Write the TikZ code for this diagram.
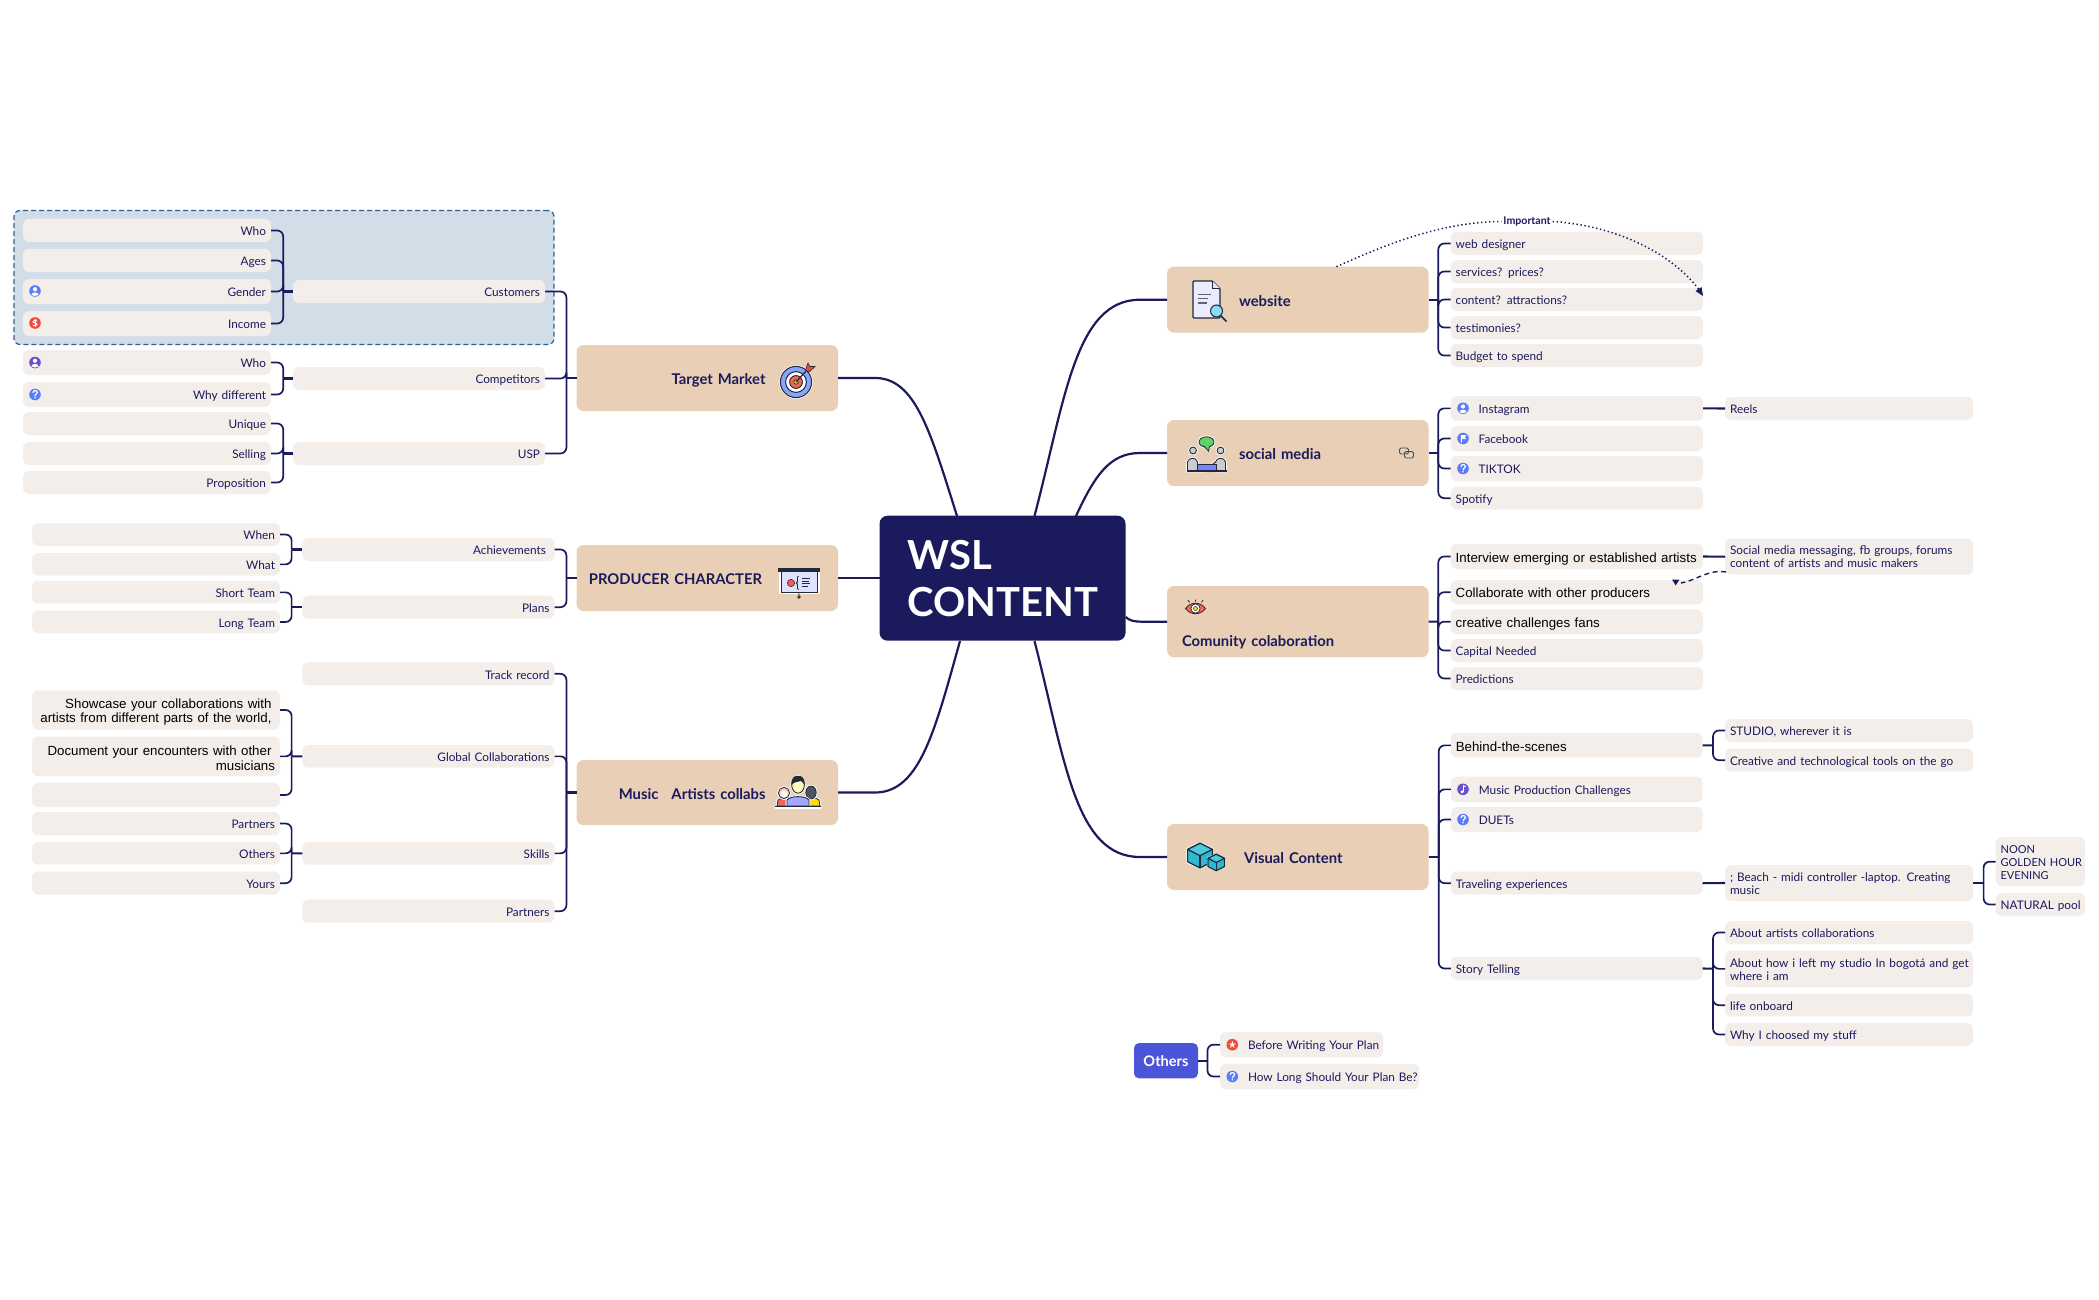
\documentclass[tikz,border=0pt]{standalone}
\usepackage{fontspec}
\setmainfont{Lato}
\newfontfamily\blackfont{Liberation Sans}
\usetikzlibrary{arrows.meta}
\definecolor{navy}{HTML}{1A1A5C}
\definecolor{tanbox}{HTML}{E8CFB5}
\definecolor{leafc}{HTML}{F3EEEA}
\definecolor{groupc}{HTML}{D3DDE8}
\definecolor{groupb}{HTML}{2C5E96}
\definecolor{othersc}{HTML}{4B55D8}
\definecolor{icblue}{HTML}{5A7DF5}
\definecolor{icpurple}{HTML}{6A4FD0}
\definecolor{icred}{HTML}{F4483C}
\definecolor{icdark}{HTML}{1E2A38}
\definecolor{icteal}{HTML}{2FB8D2}
\definecolor{icteallight}{HTML}{4CCBE0}
\tikzset{
 leafbase/.style={rectangle,rounded corners=6pt,fill=leafc,inner xsep=5pt,inner ysep=0pt,outer sep=0pt,text=navy,font=\fontsize{11.8}{13}\selectfont},
 leaf/.style={leafbase,execute at begin node={\rule[-3pt]{0pt}{16.6pt}}},
 leafLm/.style={leafbase,align=left,execute at begin node={\rule[-3pt]{0pt}{12.6pt}}},
 leafL/.style={leaf,align=left},
 leafR/.style={leaf,align=right},
 leafLk/.style={leafL,text=black,font=\blackfont\fontsize{13.3}{14}\selectfont,execute at begin node={\rule[-3pt]{0pt}{17.4pt}}},
 leafRk/.style={leafR,text=black,font=\blackfont\fontsize{13.3}{14.5}\selectfont},
 topic/.style={rectangle,rounded corners=7pt,fill=tanbox,inner xsep=5pt,inner ysep=0pt,outer sep=0pt,text=navy,font=\fontsize{14.8}{14}\bfseries\selectfont,execute at begin node={\rule[-3.5pt]{0pt}{20pt}}},
 topicL/.style={topic,align=left},
 topicR/.style={topic,align=right},
 hub/.style={rectangle,rounded corners=8pt,fill=navy,text=white,outer sep=0pt,inner xsep=5pt,inner ysep=0pt,align=left,font=\fontsize{40}{47}\bfseries\selectfont},
 othersbox/.style={rectangle,rounded corners=5pt,fill=othersc,text=white,outer sep=0pt,inner xsep=2pt,inner ysep=0pt,align=center,font=\fontsize{14.6}{15}\bfseries\selectfont},
 groupzone/.style={rectangle,rounded corners=6pt,fill=groupc,draw=groupb,line width=1.2pt,dash pattern=on 5pt off 3pt,outer sep=0pt,inner sep=0pt},
 main/.style={draw=navy,line width=2.2pt},
 branch/.style={draw=navy,line width=1.7pt,rounded corners=6pt},
 stem/.style={draw=navy,line width=2.1pt},
 dotlink/.style={draw=navy,line width=1.5pt,dash pattern=on 1.4pt off 2.6pt},
 dashlink/.style={draw=navy,line width=1.4pt,dash pattern=on 5pt off 3.5pt},
 imp/.style={text=navy,inner sep=0pt,outer sep=2pt,font=\fontsize{10.6}{12}\bfseries\selectfont},
 halo/.style={preaction={draw=white,line width=2.6pt}},
 pics/icperson/.style={code={
   \fill[#1] (0,0) circle (5.8);
   \fill[white] (0,-1.8) circle (2.1);
   \fill[white] (-3.6,3.9) .. controls (-3.4,0.6) and (3.4,0.6) .. (3.6,3.9) .. controls (1.5,5.4) and (-1.5,5.4) .. cycle;
 }},
 pics/icquestion/.style={code={
   \fill[#1] (0,0) circle (5.8);
   \draw[white,line width=1.2pt,line cap=round] (-2,-1.9) .. controls (-2,-4.6) and (2.3,-4.6) .. (2.3,-1.9) .. controls (2.3,-0.2) and (0,-0.6) .. (0,1.4);
   \fill[white] (0,3.3) circle (0.85);
 }},
 pics/icdollar/.style={code={
   \fill[#1] (0,0) circle (5.8);
   \draw[white,line width=1pt] (2,-2) .. controls (1,-3.5) and (-2.4,-3) .. (-2,-1) .. controls (-1.5,.4) and (2.4,0) .. (2,1.5) .. controls (1.5,3) and (-1,3.2) .. (-2.1,2);
   \draw[white,line width=.8pt] (0,-4.3) -- (0,4.3);
 }},
 pics/icflag/.style={code={
   \fill[#1] (0,0) circle (5.8);
   \fill[white] (-2.2,-3.4) -- (3.2,-3.4) -- (2,-1.4) -- (3.2,0.6) -- (-1.2,0.6) -- (-1.2,4.2) -- (-2.2,4.2) -- cycle;
 }},
 pics/icnote/.style={code={
   \fill[#1] (0,0) circle (5.8);
   \fill[white] (-0.9,2.6) circle (1.7);
   \draw[white,line width=.9pt] (0.5,2.6) -- (0.5,-3.6) -- (2.6,-2.4);
 }},
 pics/icstar/.style={code={
   \fill[#1] (0,0) circle (5.8);
   \fill[white] (0,-3.9) -- (.9,-1.2) -- (3.6,-1.2) -- (1.4,.5) -- (2.2,3.1) -- (0,1.5) -- (-2.2,3.1) -- (-1.4,.5) -- (-3.6,-1.2) -- (-.9,-1.2) -- cycle;
 }},
 pics/ictarget/.style={code={
   \fill[white] (0,0) circle (16.8);
   \draw[icdark,fill=icblue!70!white,line width=1pt] (0,0) circle (15.6);
   \draw[icdark,fill=white,line width=1pt] (0,0) circle (10.4);
   \draw[icdark,fill=icred!85!white,line width=.9pt] (0,0) circle (6.4);
   \draw[icdark,fill=yellow!85!orange,line width=.7pt] (0,0) circle (2.2);
   \draw[icdark,line width=1.2pt] (0,0) -- (11,-12);
   \fill[icred] (9.5,-12) -- (12,-19) -- (14,-15.5) -- (19,-15.5) -- (13,-10) -- cycle;
   \draw[icdark,line width=.6pt] (9.5,-12) -- (12,-19) -- (14,-15.5) -- (19,-15.5) -- (13,-10) -- cycle;
 }},
 pics/icboard/.style={code={
   \fill[white] (-20.5,-13) rectangle (20.5,12);
   \draw[icdark,fill=blue!12!white,line width=1pt] (-18,-11) rectangle (18,11);
   \draw[icdark,fill=gray!60!white,line width=1.2pt] (-20,-12.5) rectangle (20,-10.5);
   \fill[icred!90!white,draw=icdark,line width=.5pt] (-8,1.5) circle (3.7);
   \draw[icdark,line width=.9pt] (-.5,-5.5) .. controls (-3,-5) and (0,1.5) .. (-2.8,1.5) .. controls (0,1.5) and (-3,8) .. (-.5,8);
   \draw[icdark,line width=1pt] (3,-3.5) -- (11,-3.5) (3,-.5) -- (10,-.5) (3,2) -- (11,2) (3,5) -- (9,5);
   \draw[icdark,line width=.8pt,fill=white] (0,11) -- (0,14.5) (0,15.5) circle (1.3);
 }},
 pics/icpeople/.style={code={
   \fill[icred!85!white,draw=icdark,line width=.8pt,halo] (-21,14) -- (-20,8) .. controls (-17,5) and (-9,5) .. (-8,8) -- (-8,14) -- cycle;
   \fill[pink!80!white,draw=icdark,line width=.8pt,halo] (-14,1) circle (5.6);
   \fill[white] (-14,2) circle (3.2);
   \fill[yellow!80!orange,draw=icdark,line width=.8pt,halo] (8,14) -- (8,8) .. controls (10,5) and (18,5) .. (21,8) -- (22,14) -- cycle;
   \fill[icdark!80!white,draw=icdark,line width=.8pt,halo] (13,.5) ellipse (5.2 and 6.4);
   \fill[blue!35!white,draw=icdark,line width=.9pt,halo] (-11,14) -- (-11,8) .. controls (-8,3.5) and (8,3.5) .. (11,8) -- (11,14) -- cycle;
   \fill[yellow!25!white,draw=icdark,line width=.9pt,halo] (0,-7) ellipse (6.3 and 8.2);
   \fill[icdark] (-6.6,-7) .. controls (-7,-15) and (-3,-16.5) .. (0,-16) .. controls (4,-16.5) and (7,-14) .. (6.6,-7) .. controls (4.5,-9) and (4,-11) .. (3,-11) .. controls (0,-10) and (-3.5,-10.5) .. (-6.6,-7) -- cycle;
   \draw[white,line width=3pt] (-23,15.3) -- (23,15.3);
   \draw[icdark,line width=1.6pt] (-23,14.5) -- (23,14.5);
 }},
 pics/icdoc/.style={code={
   \draw[icdark,fill=white!92!blue,line width=1.3pt,rounded corners=1pt] (-13.5,-18.5) -- (6,-18.5) -- (13.5,-11) -- (13.5,18.5) -- (-13.5,18.5) -- cycle;
   \draw[icdark,line width=.8pt,fill=gray!20!white] (6,-18.5) -- (6,-11) -- (13.5,-11);
   \draw[gray!70!icdark,line width=1.2pt] (-9,-5) -- (4,-5) (-9,-.8) -- (1,-.8) (-9,3.4) -- (0,3.4);
   \draw[icdark,line width=1.5pt] (13,15) -- (20,22);
   \draw[icdark,fill=cyan!45!white,line width=1pt] (10,11.5) circle (6);
 }},
 pics/icmeeting/.style={code={
   \fill[green!55!gray!80!white,draw=icdark,line width=.8pt,halo] (20,-11) ellipse (7.5 and 5.2);
   \fill[green!55!gray!80!white,draw=icdark,line width=.8pt] (17,-7.4) -- (22,-2) -- (23,-7);
   \fill[gray!40!white,draw=icdark,line width=.9pt,halo] (1,18) -- (1,9) .. controls (2,4) and (10,4) .. (11,9) -- (11,15) -- (15,18) -- cycle;
   \fill[gray!40!white,draw=icdark,line width=.9pt,halo] (39,18) -- (39,9) .. controls (38,4) and (30,4) .. (29,9) -- (24,13) -- (29,15) -- (29,18) -- cycle;
   \fill[white!60!gray,draw=icdark,line width=.9pt,halo] (6.5,-2.5) circle (3.4);
   \fill[white!60!gray,draw=icdark,line width=.9pt,halo] (34,-2.5) circle (3.4);
   \fill[blue!50!white,draw=icdark,line width=.7pt] (10.5,11) rectangle (30,18);
   \draw[icdark,line width=1.5pt] (0,18.2) -- (40,18.2);
 }},
 pics/iceye/.style={code={
   \draw[icdark,line width=.8pt,fill=icred!85!white] (-10,0) .. controls (-5,-7) and (5,-7) .. (10,0) .. controls (5,7) and (-5,7) .. (-10,0) -- cycle;
   \draw[icdark,line width=.7pt,fill=white] (0,0) circle (4.6);
   \draw[icdark,line width=.5pt,fill=yellow!85!orange] (0,0) circle (2);
   \draw[icdark,line width=.8pt] (0,-7) -- (0,-9) (-6,-6) -- (-7.5,-8.5) (6,-6) -- (7.5,-8.5);
 }},
 pics/iccube/.style={code={
   \fill[white] (0,-1.1) -- (1.1,-.6) -- (1.1,.6) -- (0,1.1) -- (-1.1,.6) -- (-1.1,-.6) -- cycle;
   \draw[icdark,line width=1.2pt,fill=icteal,line join=round] (0,-1) -- (1,-.5) -- (1,.5) -- (0,1) -- (-1,.5) -- (-1,-.5) -- cycle;
   \draw[icdark,line width=1.2pt,fill=icteallight,line join=round] (0,-1) -- (1,-.5) -- (0,0) -- (-1,-.5) -- cycle;
   \draw[icdark,line width=1.2pt] (0,0) -- (0,1);
 }},
 pics/iclink/.style={code={
   \draw[gray!40!icdark,line width=.9pt,rounded corners=1.5pt] (0,0) rectangle (9,6);
   \draw[gray!40!icdark,line width=.9pt,rounded corners=1.5pt] (5,3.6) rectangle (14,10);
 }}
}
% name, style, x1, y1, x2, y2, text
\newcommand{\mmbox}[7]{%
 \pgfmathsetmacro{\mmw}{#5-(#3)}\pgfmathsetmacro{\mmh}{#6-(#4)}%
 \pgfmathsetmacro{\mmcx}{(#3+#5)/2}\pgfmathsetmacro{\mmcy}{(#4+#6)/2}%
 \pgfmathsetmacro{\mmt}{\mmw-10}%
 \node[#2,minimum width=\mmw pt,minimum height=\mmh pt,text width=\mmt pt] (#1) at (\mmcx,\mmcy) {#7};}
% junction, anchor on children, children
\newcommand{\mmfan}[3]{\foreach \mmc in {#3}{\draw[branch] (\mmc.#2) -| (#1);}}
\begin{document}
\begin{tikzpicture}[x=1pt,y=-1pt]
\useasboundingbox (0,0) rectangle (2099,1300);
\node[groupzone,minimum width=540pt,minimum height=134pt] (grp) at (284,277.5) {};

% left: target market
\mmbox{tmarket}{topicR}{576.5}{345}{838}{411}{Target Market\hspace{67.5pt}\mbox{}}
\mmbox{who}{leafR}{23}{219}{271}{242}{Who}
\mmbox{ages}{leafR}{23}{249}{271}{272}{Ages}
\mmbox{gender}{leafR}{23}{279}{271}{304}{Gender}
\mmbox{income}{leafR}{23}{311}{271}{336}{Income}
\mmbox{customers}{leafR}{293}{280}{545}{303}{Customers}
\mmbox{whob}{leafR}{23}{350}{271}{375}{Who}
\mmbox{whydiff}{leafR}{23}{382}{271}{407}{Why different}
\mmbox{competitors}{leafR}{293}{367}{545}{390}{Competitors}
\mmbox{unique}{leafR}{23}{412}{271}{435}{Unique}
\mmbox{selling}{leafR}{23}{442}{271}{465}{Selling}
\mmbox{proposition}{leafR}{23}{471}{271}{494}{Proposition}
\mmbox{usp}{leafR}{293}{442}{545}{465}{USP}

% left: producer
\mmbox{producer}{topicR}{576.5}{545}{838}{611}{PRODUCER CHARACTER\hspace{71pt}\mbox{}}
\mmbox{whenb}{leafR}{32}{523}{280}{546}{When}
\mmbox{whatb}{leafR}{32}{553}{280}{575.7}{What}
\mmbox{shortt}{leafR}{32}{581}{280}{603.7}{Short Team}
\mmbox{longt}{leafR}{32}{610.7}{280}{633.3}{Long Team}
\mmbox{achieve}{leafR}{302.3}{538}{554.5}{561}{Achievements\hspace{3.5pt}\mbox{}}
\mmbox{plans}{leafR}{302.3}{595.7}{554.5}{618.7}{Plans}

% left: music
\mmbox{music}{topicR}{576.5}{760}{838}{825}{Music\hspace{13pt}Artists collabs\hspace{67.5pt}\mbox{}}
\mmbox{track}{leafR}{302.3}{662.3}{554.5}{685.3}{Track record}
\mmbox{showcase}{leafRk}{32}{690.3}{280}{729.7}{Showcase your collaborations with\hspace{3.5pt}\mbox{}\\artists from different parts of the world,\hspace{3.5pt}\mbox{}}
\mmbox{document}{leafRk}{32}{736.7}{280}{776}{Document your encounters with other\hspace{3.5pt}\mbox{}\\musicians}
\mmbox{emptyb}{leafR}{32}{783}{280}{807}{}
\mmbox{globalc}{leafR}{302.3}{745}{554.5}{767.7}{Global Collaborations}
\mmbox{partnersa}{leafR}{32}{812}{280}{835}{Partners}
\mmbox{others}{leafR}{32}{842}{280}{864.7}{Others}
\mmbox{yours}{leafR}{32}{871.7}{280}{894.7}{Yours}
\mmbox{skills}{leafR}{302.3}{842}{554.5}{864.7}{Skills}
\mmbox{partnersb}{leafR}{302.3}{899.7}{554.5}{922.7}{Partners}

% hub
\node[hub,minimum width=246pt,minimum height=125pt,text width=190pt] (wsl) at (1002.5,578.2) {WSL\\CONTENT};

% right: website
\mmbox{website}{topicL}{1167}{266.7}{1428.6}{332.7}{\hspace{67pt}website}
\mmbox{webdes}{leafL}{1450.7}{232}{1703}{255}{web designer}
\mmbox{services}{leafL}{1450.7}{260}{1703}{283}{services? prices?}
\mmbox{contentb}{leafL}{1450.7}{288}{1703}{311}{content? attractions?}
\mmbox{testim}{leafL}{1450.7}{316}{1703}{339}{testimonies?}
\mmbox{budget}{leafL}{1450.7}{344}{1703}{367}{Budget to spend}

% right: social
\mmbox{social}{topicL}{1167}{420}{1428.6}{486}{\hspace{67pt}social media}
\mmbox{instagram}{leafL}{1450.7}{396}{1703}{420.7}{\hspace{23pt}Instagram}
\mmbox{facebook}{leafL}{1450.7}{426}{1703}{451}{\hspace{23pt}Facebook}
\mmbox{tiktok}{leafL}{1450.7}{456}{1703}{481}{\hspace{23pt}TIKTOK}
\mmbox{spotify}{leafL}{1450.7}{486.7}{1703}{509.7}{Spotify}
\mmbox{reels}{leafL}{1725}{397}{1973}{420}{Reels}

% right: community
\mmbox{community}{topicL}{1167}{586}{1428.6}{657.3}{\mbox{}\\[19.7pt]\hspace{10pt}Comunity colaboration}
\mmbox{interview}{leafLk}{1450.7}{544}{1703}{569}{\mbox{Interview emerging or established artists}}
\mmbox{collab}{leafLk}{1450.7}{580}{1703}{604.3}{Collaborate with other producers}
\mmbox{creative}{leafLk}{1450.7}{609.3}{1703}{634}{creative challenges fans}
\mmbox{capital}{leafL}{1450.7}{639}{1703}{662}{Capital Needed}
\mmbox{predict}{leafL}{1450.7}{667}{1703}{690}{Predictions}
\mmbox{messaging}{leafLm}{1725}{538.7}{1973}{574.7}{\mbox{Social media messaging, fb groups, forums}\\content of artists and music makers}

% right: visual
\mmbox{visual}{topicL}{1167}{824}{1428.5}{890}{\hspace{72pt}Visual Content}
\mmbox{behind}{leafLk}{1450.8}{733}{1702.7}{757.7}{Behind-the-scenes}
\mmbox{musicprod}{leafL}{1450.8}{776.7}{1702.7}{802}{\hspace{23pt}Music Production Challenges}
\mmbox{duets}{leafL}{1450.8}{807}{1702.7}{832}{\hspace{23pt}DUETs}
\mmbox{travel}{leafL}{1450.8}{871.7}{1702.7}{894.7}{Traveling experiences}
\mmbox{story}{leafL}{1450.8}{957}{1702.7}{980}{Story Telling}
\mmbox{studio}{leafL}{1725}{719}{1973}{742}{STUDIO, wherever it is}
\mmbox{creativetools}{leafL}{1725}{748.7}{1973}{771.7}{\mbox{Creative and technological tools\hspace{4pt}on the go}}
\mmbox{beach}{leafLm}{1725}{865}{1973}{901}{\mbox{; Beach - midi controller -laptop. Creating}\\music}
\mmbox{aboutart}{leafL}{1725}{921}{1973}{944}{About artists collaborations}
\mmbox{abouthow}{leafLm}{1725}{950.7}{1973}{987}{\mbox{About how i left my studio In bogotá and get}\\where i am}
\mmbox{lifeon}{leafL}{1725}{993.7}{1973}{1016.7}{life onboard}
\mmbox{whyi}{leafL}{1725}{1023}{1973}{1046}{Why I choosed my stuff}
\mmbox{noon}{leafLm,font=\fontsize{11}{13}\selectfont}{1995.6}{837}{2085}{886.3}{NOON\\\mbox{GOLDEN HOUR}\\EVENING}
\mmbox{natural}{leafL}{1995.6}{893}{2085}{916}{\mbox{NATURAL pool}}

% others
\node[othersbox,minimum width=64pt,minimum height=35.3pt] (othersroot) at (1166,1060.7) {Others};
\mmbox{before}{leafL}{1220}{1032}{1383}{1057.3}{\mbox{\hspace{23pt}Before Writing Your Plan}}
\mmbox{howlong}{leafL}{1220}{1064}{1419.4}{1089}{\mbox{\hspace{23pt}How Long Should Your Plan Be?}}

% junctions
\coordinate (jcust) at (283.2,291.5);
\coordinate (jcomp) at (283.2,378.5);
\coordinate (jusp) at (283.2,453.5);
\coordinate (jtm) at (566.4,378);
\coordinate (jach) at (291.6,549.5);
\coordinate (jplan) at (291.6,607.2);
\coordinate (jprod) at (566.4,578);
\coordinate (jglob) at (291.6,756.3);
\coordinate (jskill) at (291.6,853.3);
\coordinate (jmus) at (566.4,792.5);
\coordinate (jweb) at (1438.3,299.7);
\coordinate (jsoc) at (1438.3,453);
\coordinate (jcom) at (1438.3,621.7);
\coordinate (jvis) at (1438.7,857);
\coordinate (jbeh) at (1713,745.3);
\coordinate (jsto) at (1713,968.7);
\coordinate (jbea) at (1983.6,883);
\coordinate (joth) at (1207.5,1060.7);

\mmfan{jcust}{east}{who,ages,gender,income}
\mmfan{jcomp}{east}{whob,whydiff}
\mmfan{jusp}{east}{unique,selling,proposition}
\mmfan{jtm}{east}{customers,competitors,usp}
\mmfan{jach}{east}{whenb,whatb}
\mmfan{jplan}{east}{shortt,longt}
\mmfan{jprod}{east}{achieve,plans}
\mmfan{jglob}{east}{showcase,document,emptyb}
\mmfan{jskill}{east}{partnersa,others,yours}
\mmfan{jmus}{east}{track,globalc,skills,partnersb}
\mmfan{jweb}{west}{webdes,services,contentb,testim,budget}
\mmfan{jsoc}{west}{instagram,facebook,tiktok,spotify}
\mmfan{jcom}{west}{interview,collab,creative,capital,predict}
\mmfan{jvis}{west}{behind,musicprod,duets,travel,story}
\mmfan{jbeh}{west}{studio,creativetools}
\mmfan{jsto}{west}{aboutart,abouthow,lifeon,whyi}
\mmfan{jbea}{west}{noon,natural}
\mmfan{joth}{west}{before,howlong}

\draw[stem] (customers.west) -- (jcust);
\draw[stem] (competitors.west) -- (jcomp);
\draw[stem] (usp.west) -- (jusp);
\draw[stem] (tmarket.west) -- (jtm);
\draw[stem] (achieve.west) -- (jach);
\draw[stem] (plans.west) -- (jplan);
\draw[stem] (globalc.west) -- (jglob);
\draw[stem] (skills.west) -- (jskill);
\draw[stem] (producer.west) -- (jprod);
\draw[stem] (music.west) -- (jmus);
\draw[stem] (website.east) -- (jweb);
\draw[stem] (social.east) -- (jsoc);
\draw[stem] (community.east) -- (jcom);
\draw[stem] (visual.east) -- (jvis);
\draw[stem] (behind.east) -- (jbeh);
\draw[stem] (story.east) -- (jsto);
\draw[stem] (beach.east) -- (jbea);
\draw[stem] (othersroot.east) -- (joth);
\draw[stem] (travel.east) -- (beach.west);
\draw[stem] (instagram.east) -- (reels.west);
\draw[stem] (interview.east) -- (messaging.west);

% main curves
\coordinate (hubnwa) at (957,516);
\coordinate (hubna) at (1034.5,516);
\coordinate (hubnb) at (1076,516);
\coordinate (hubea) at (1125.6,617);
\coordinate (hubsa) at (960,641);
\coordinate (hubsb) at (1034.5,641);
\draw[main] (tmarket.east) -- (875,378) .. controls (915,378) and (930,430) .. (hubnwa);
\draw[main] (producer.east) -- (wsl.west |- producer.east);
\draw[main] (music.east) -- (875,792.5) .. controls (920,792.5) and (935,730) .. (hubsa);
\draw[main] (hubna) .. controls (1065,400) and (1075,299.7) .. (1140,299.7) -- (website.west);
\draw[main] (hubnb) .. controls (1095,475) and (1110,453) .. (1140,453) -- (social.west);
\draw[main] (hubea) .. controls (1130,621) and (1135,621.7) .. (1142,621.7) -- (community.west);
\draw[main] (hubsb) .. controls (1065,760) and (1075,857) .. (1140,857) -- (visual.west);

% relation: Important
\coordinate (impstart) at (1336.4,266.7);
\coordinate (imptip) at (1703,296);
\node[imp] (important) at (1527,221.5) {Important};
\draw[dotlink] (impstart) .. controls (1385,245) and (1440,222) .. (important.west);
\draw[dotlink] (important.east) .. controls (1610,225) and (1670,250) .. (1700,291);
\fill[navy] (imptip) -- (1695.5,291) -- (1701.5,287) -- cycle;

% relation: dashed
\coordinate (dashstart) at (1726,572);
\coordinate (dashend) at (1681,583);
\draw[dashlink] (dashstart) .. controls (1708,569) and (1695,581) .. (dashend);
\fill[navy] (1675.7,585.5) -- (1672,579.5) -- (1679.4,579.5) -- cycle;

% small icons
\pic at (35,291) {icperson=icblue};
\pic at (35,323) {icdollar=icred};
\pic at (35,362.5) {icperson=icpurple};
\pic at (35,394.5) {icquestion=icblue};
\pic at (1463,408.3) {icperson=icblue};
\pic at (1463,438.5) {icflag=icblue};
\pic at (1463,468.5) {icquestion=icblue};
\pic at (1463,789.3) {icnote=icpurple};
\pic at (1463,819.5) {icquestion=icblue};
\pic at (1232.3,1044.7) {icstar=icred};
\pic at (1232.3,1076.5) {icquestion=icblue};

% topic icons
\pic at (796,382) {ictarget};
\pic at (799,581.5) {icboard};
\pic at (798,792) {icpeople};
\pic at (1206.5,299.5) {icdoc};
\pic at (1186.5,453) {icmeeting};
\pic at (1195.5,608.5) {iceye};
\pic[scale=12.4] at (1200,855.6) {iccube};
\pic[scale=8.3] at (1216.2,862.5) {iccube};
\pic at (1399.5,448) {iclink};
\end{tikzpicture}
\end{document}
